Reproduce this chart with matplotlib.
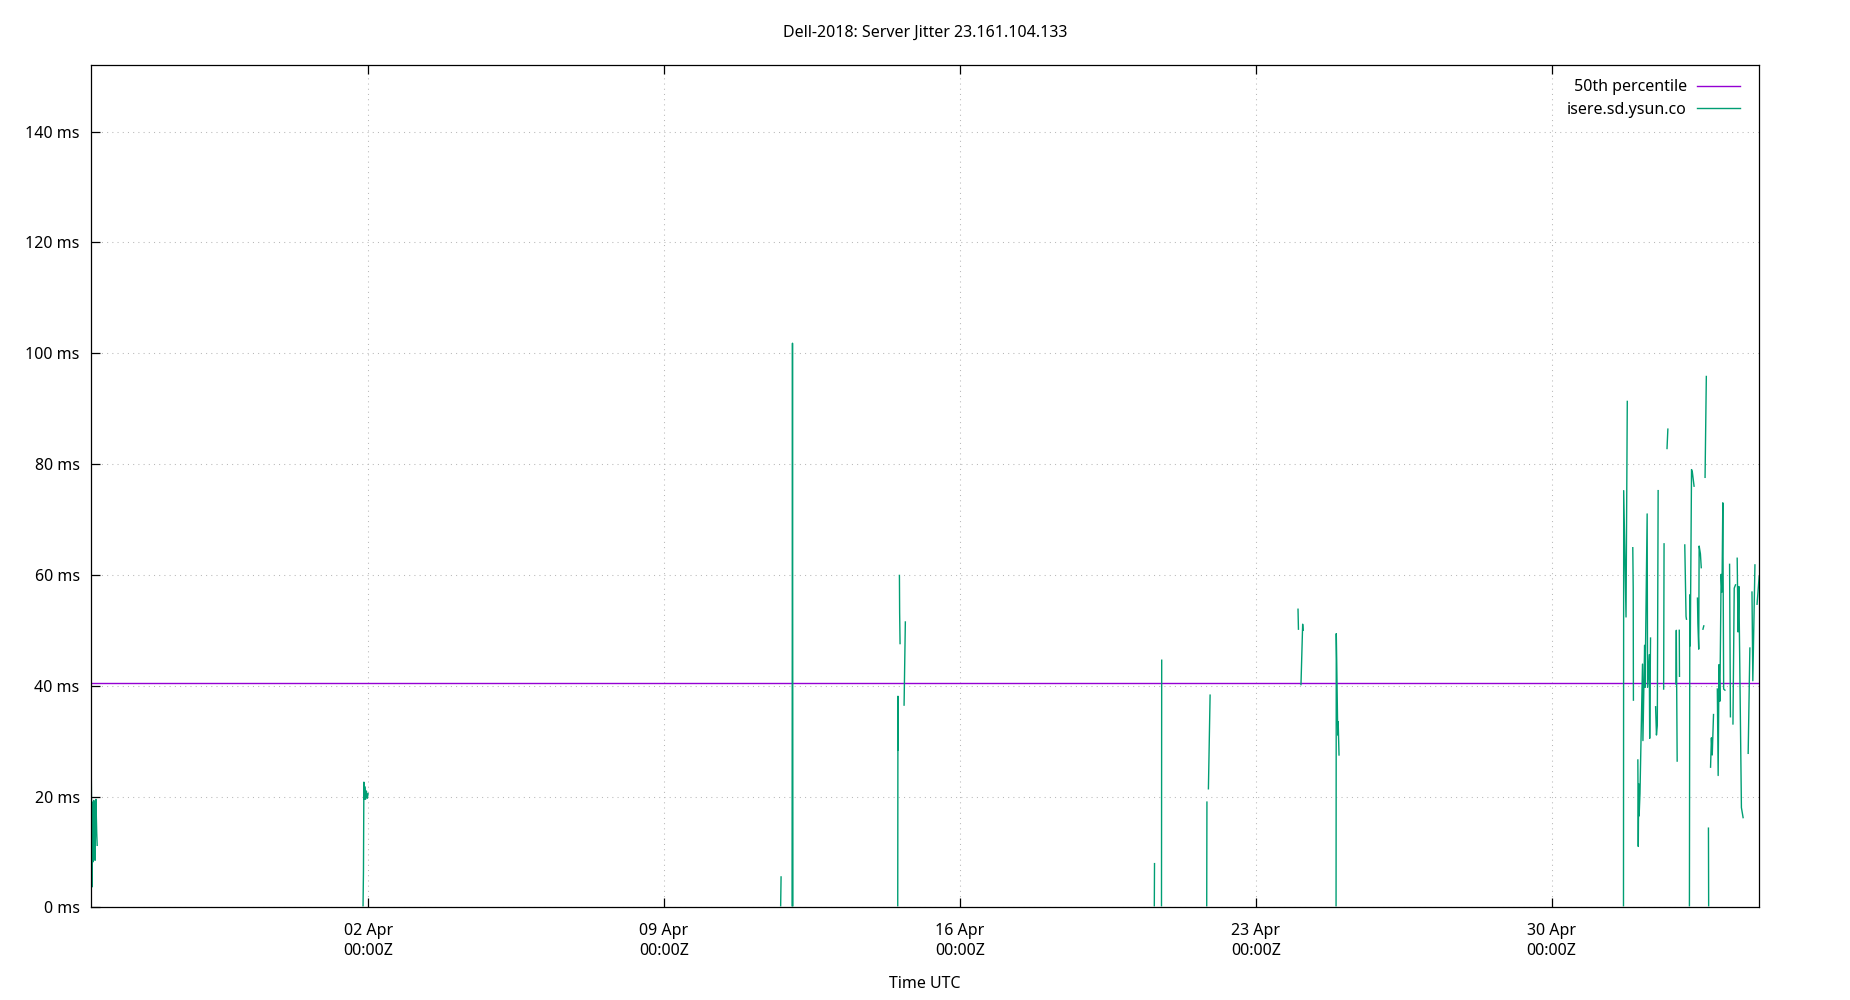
import numpy as np
import matplotlib.pyplot as plt
import matplotlib.dates as mdates
from datetime import datetime, timedelta

plt.rcParams['font.family'] = ['Noto Sans', 'DejaVu Sans']

# data
# time is in days from 02 Apr 00:00Z, None = gap in the samples
base = datetime(2018, 4, 2)
p50_ms = 40.5
offset_days = [
    -6.56, -6.545, -6.53, -6.52, -6.51, -6.49, -6.47, -6.46, -6.44, -6.42, -6.41, None,
    -0.12, -0.11, -0.10, -0.09, -0.08, -0.06, -0.04, -0.02, 0.0, None,
    9.76, 9.77, None,
    10.03, 10.04, 10.05, None,
    12.53, 12.535, 12.54, None,
    12.57, 12.575, 12.585, None,
    12.68, 12.71, None,
    18.60, 18.605, None,
    18.77, 18.775, None,
    19.84, 19.845, None,
    19.88, 19.92, None,
    22.00, 22.01, None,
    22.07, 22.11, 22.12, None,
    22.90, 22.905, 22.915, 22.94, 22.95, 22.97, None,
    29.70, 29.705, 29.76, 29.79, None,
    29.92, 29.93, 29.935, None,
    30.04, 30.05, 30.06, 30.07, 30.09, 30.15, 30.16, 30.20, 30.21, 30.26, 30.27, 30.31, 30.32, 30.34, None,
    30.46, 30.48, 30.50, 30.52, None,
    30.65, 30.66, None,
    30.73, 30.75, None,
    30.94, 30.95, 30.97, None,
    31.02, 31.025, None,
    31.15, 31.18, 31.19, None,
    31.26, 31.27, 31.28, 31.31, 31.33, 31.37, None,
    31.45, 31.46, 31.48, 31.49, 31.52, 31.54, None,
    31.58, 31.60, None,
    31.63, 31.66, None,
    31.71, 31.715, None,
    31.76, 31.78, 31.80, 31.83, None,
    31.92, 31.94, 31.96, 31.98, 32.01, 32.03, 32.05, 32.07, 32.10, None,
    32.21, 32.23, None,
    32.29, 32.32, 32.35, None,
    32.39, 32.41, 32.43, 32.49, 32.53, None,
    32.65, 32.69, None,
    32.74, 32.76, 32.81, None,
    32.86, 32.91,
]
jitter_ms = [
    33.2, 20.0, 3.7, 19.0, 8.2, 19.3, 13.0, 8.5, 19.5, 13.3, 11.2, None,
    0.3, 6.4, 22.6, 19.5, 21.8, 19.5, 21.0, 19.7, 20.5, None,
    0.3, 5.5, None,
    0.3, 101.8, 0.3, None,
    0.3, 38.1, 28.4, None,
    59.9, 53.2, 47.6, None,
    36.5, 51.5, None,
    0.3, 7.9, None,
    0.3, 44.6, None,
    0.3, 19.0, None,
    21.4, 38.3, None,
    53.8, 50.2, None,
    40.2, 51.1, 50.0, None,
    0.3, 49.4, 44.7, 31.1, 33.5, 27.5, None,
    0.3, 75.2, 52.4, 91.3, None,
    64.9, 57.6, 37.4, None,
    26.6, 11.0, 22.3, 16.5, 20.5, 43.9, 30.1, 47.3, 39.7, 71.0, 39.7, 45.6, 30.5, 48.6, None,
    36.2, 31.1, 32.8, 75.2, None,
    39.4, 65.6, None,
    82.8, 86.3, None,
    40.3, 50.0, 26.4, None,
    50.0, 41.7, None,
    65.4, 52.5, 52.0, None,
    0.3, 56.4, 47.2, 79.0, 78.5, 76.0, None,
    55.8, 51.3, 46.6, 65.2, 63.8, 61.3, None,
    50.2, 50.8, None,
    77.6, 95.8, None,
    14.3, 0.3, None,
    25.3, 30.6, 27.5, 34.8, None,
    39.4, 23.8, 43.8, 37.2, 60.1, 56.9, 73.0, 39.4, 39.2, None,
    61.9, 34.4, None,
    33.1, 57.6, 58.2, None,
    63.0, 49.7, 57.9, 18.0, 16.2, None,
    27.8, 46.8, None,
    56.9, 40.9, 61.8, None,
    54.7, 59.7,
]
tick_days = [0, 7, 14, 21, 28]
y_ticks = [0, 20, 40, 60, 80, 100, 120, 140]


def main():
    t = [base + timedelta(days=d) if d is not None else None for d in offset_days]
    t_num = np.array([mdates.date2num(x) if x is not None else np.nan for x in t])
    v = np.array([x if x is not None else np.nan for x in jitter_ms], dtype=float)

    fig = plt.figure(figsize=(18.5, 10), dpi=100)
    ax = fig.add_axes([0.0491, 0.0926, 0.9018, 0.8424])

    ax.axhline(p50_ms, color='#9400d3', lw=1.0, label='50th percentile')
    ax.plot(t_num, v, color='#009e73', lw=1.0, label='isere.sd.ysun.co')

    ax.set_xlim(np.nanmin(t_num), np.nanmax(t_num))
    ax.set_ylim(0, 152)

    ax.set_xticks([mdates.date2num(base + timedelta(days=d)) for d in tick_days])
    ax.xaxis.set_major_formatter(mdates.DateFormatter('%d %b\n%H:%MZ'))
    ax.set_yticks(y_ticks)
    ax.set_yticklabels(['%d ms' % y for y in y_ticks])

    ax.tick_params(direction='in', length=6.5, width=0.9, labelsize=11.5,
                   top=True, right=False, color='black')
    ax.tick_params(axis='y', pad=8)
    ax.tick_params(axis='x', pad=11)
    for lab in ax.get_xticklabels():
        lab.set_linespacing(1.35)
    for s in ax.spines.values():
        s.set_linewidth(0.9)

    ax.grid(True, color='#b8b8b8', lw=0.75, linestyle=(0, (1, 4)))
    ax.set_axisbelow(True)

    ax.legend(loc='upper right', bbox_to_anchor=(1 - 5 / 1668, 1),
              markerfirst=False, frameon=False, fontsize=11.5,
              handlelength=2.7, handletextpad=0.6, labelspacing=0.4,
              borderaxespad=0.5)

    fig.text(0.5, 1 - 33 / 1000, 'Dell-2018: Server Jitter 23.161.104.133',
             ha='center', va='center', fontsize=11.5)
    fig.text(0.5, 1 - 984 / 1000, 'Time UTC', ha='center', va='center', fontsize=11.5)

    fig.savefig('out.png', dpi=100)


if __name__ == '__main__':
    main()
